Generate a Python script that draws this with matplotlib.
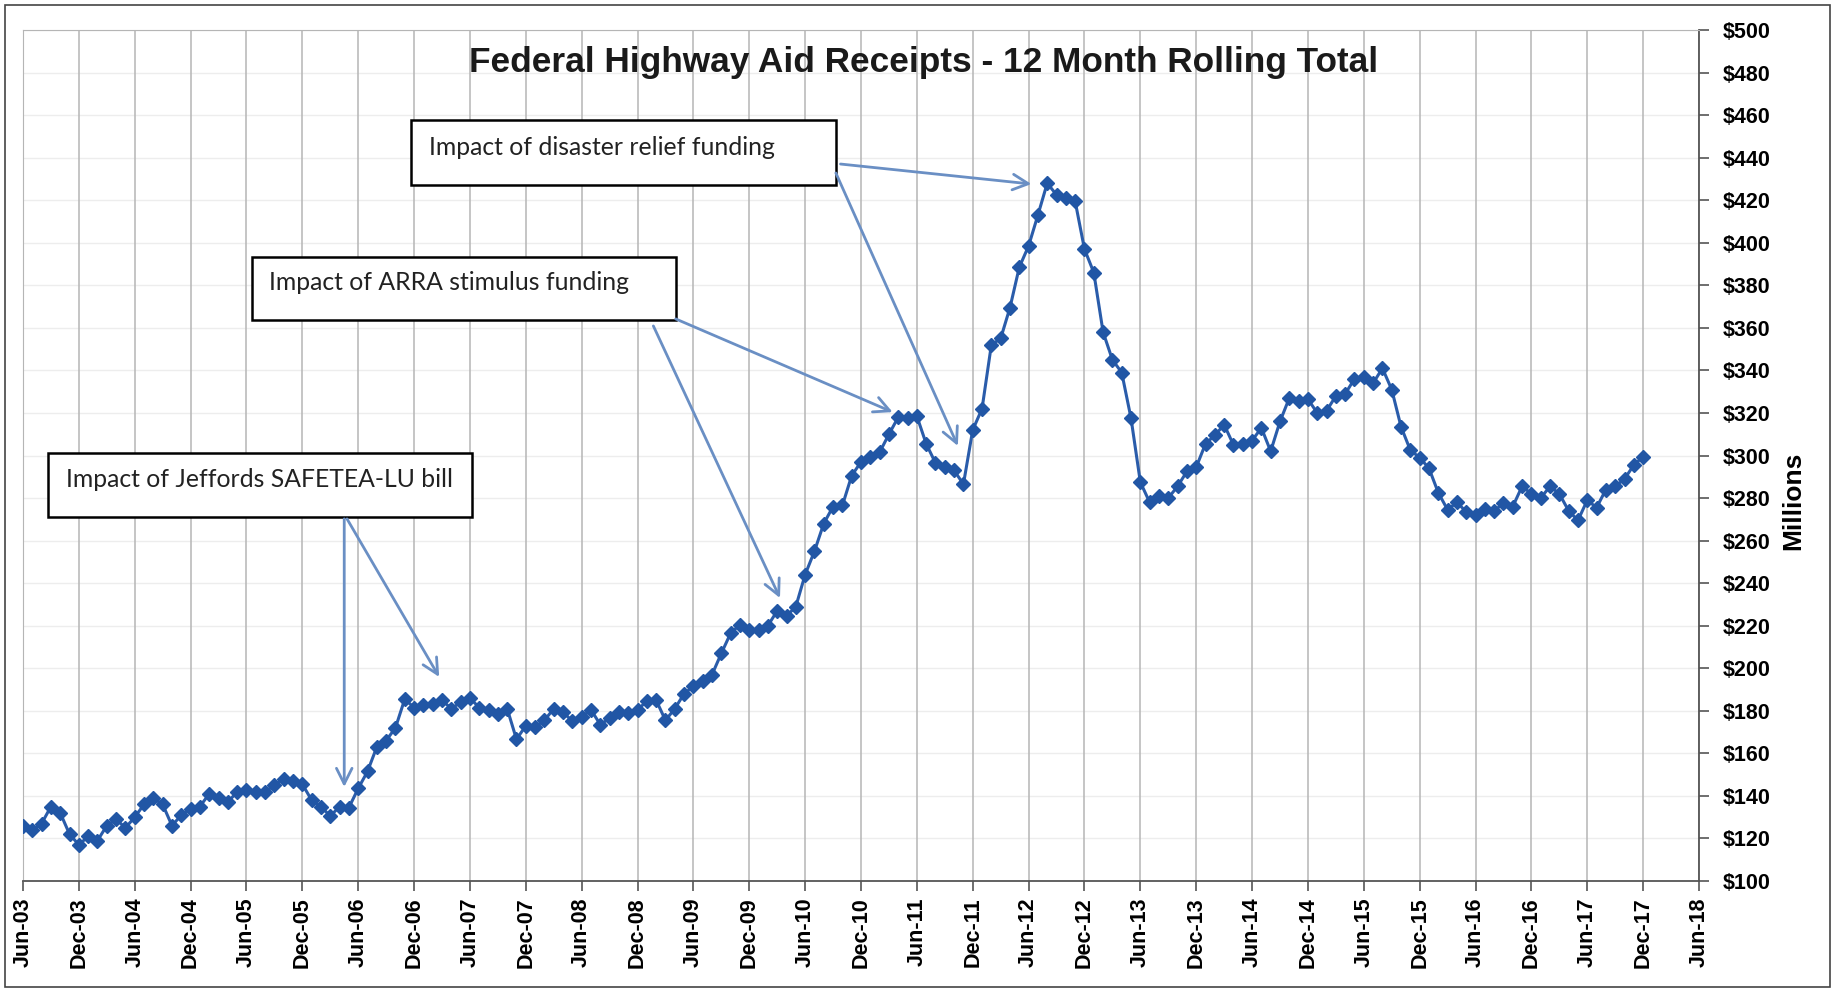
import numpy as np
import pandas as pd
import matplotlib
matplotlib.use("Agg")
import matplotlib.pyplot as plt
from matplotlib.patches import Rectangle

# 12 month rolling total of federal highway aid receipts ($ millions), monthly Jun-03 .. Dec-17
receipts = [
    126, 124, 127, 135, 132, 122, 117, 121, 119, 126, 129, 125,          # Jun-03 .. May-04
    130, 136, 139, 136, 126, 131, 134, 135, 141, 139, 137, 142,          # Jun-04 .. May-05
    143, 142, 142, 145, 148, 147, 145.5, 138, 135, 130.5, 135, 134.5,    # Jun-05 .. May-06
    143.5, 151.5, 163, 166, 172, 185.5, 181.5, 182.5, 183, 185, 181, 184,  # Jun-06 .. May-07
    186, 181.5, 180.5, 178.5, 181, 166.6, 173, 172.5, 175.5, 181, 179.5, 175,  # Jun-07 .. May-08
    177, 180.5, 173.5, 176.5, 179.5, 179, 180.5, 184.5, 185, 175.5, 181, 188,  # Jun-08 .. May-09
    191.5, 194, 197, 207, 216.5, 220.5, 218, 218, 220, 227, 224.5, 229,  # Jun-09 .. May-10
    244, 255, 268, 276, 276.5, 290.5, 297, 299.5, 301.5, 310, 318, 317.5,  # Jun-10 .. May-11
    318.5, 305.5, 296.5, 294.5, 293, 286.5, 312, 322, 352, 355, 369.5, 388.5,  # Jun-11 .. May-12
    398.5, 413, 428, 422.5, 421, 419.5, 397, 386, 358, 345, 339, 317.5,  # Jun-12 .. May-13
    287.5, 278, 281, 280, 285.5, 292.5, 294.5, 305.5, 309.5, 314.5, 305, 305.5,  # Jun-13 .. May-14
    307, 313, 302, 316, 327, 325.5, 326.5, 320, 321, 328, 329, 336,      # Jun-14 .. May-15
    337, 334, 341, 331, 313.5, 302.5, 299, 294, 282.5, 274.5, 278, 273.5,  # Jun-15 .. May-16
    272, 275, 274, 277.5, 276, 285.5, 282, 280, 285.5, 282, 274, 269.5,  # Jun-16 .. May-17
    279, 275.5, 284, 285.5, 289, 295.5, 299.5,                           # Jun-17 .. Dec-17
]
months = pd.date_range("2003-06-01", periods=len(receipts), freq="MS")
tick_dates = pd.date_range("2003-06-01", "2018-06-01", freq="6MS")
tick_labels = [d.strftime("%b-%y") for d in tick_dates]
y_ticks = list(range(100, 501, 20))

# annotation text, box (x0, y0, w, h) in months / $M, text anchor, arrows (start, tip)
notes = [
    ("Impact of disaster relief funding", (41.7, 427.1, 45.6, 30.8), (43.6, 444.7),
     [((87.8, 437.0), (108.3, 427.6)), ((87.3, 432.8), (100.4, 304.5))]),
    ("Impact of ARRA stimulus funding", (24.6, 363.7, 45.5, 29.6), (26.4, 381.5),
     [((70.1, 364.2), (93.4, 320.4)), ((67.7, 360.9), (81.3, 233.0))]),
    ("Impact of Jeffords SAFETEA-LU bill", (2.7, 271.0, 45.5, 30.2), (4.6, 288.5),
     [((34.5, 270.2), (34.5, 144.2)), ((34.8, 270.2), (44.7, 195.9))]),
]

x = np.array([(d.year - 2003) * 12 + d.month - 6 for d in months])
tick_pos = [(d.year - 2003) * 12 + d.month - 6 for d in tick_dates]

plt.rcParams["font.family"] = ["Liberation Sans", "DejaVu Sans"]

fig = plt.figure(figsize=(18.37, 9.9), dpi=100)
ax = fig.add_axes([23 / 1837, 1 - 881 / 990, 1676 / 1837, 851 / 990])

# grid
for yv in y_ticks:
    ax.axhline(yv, color="#ededed", lw=1.0, zorder=0)
for xv in tick_pos:
    ax.axvline(xv, color="#b5b5b5", lw=1.1, zorder=0)

ax.plot(x, receipts, color="#2a5caa", lw=2.2, marker="D", markersize=7.5,
        markerfacecolor="#2156a5", markeredgecolor="#2156a5", zorder=3)

ax.set_xlim(0, 180)
ax.set_ylim(100, 500)
ax.set_xticks(tick_pos)
ax.set_xticklabels(tick_labels, rotation=90, fontsize=15.5, fontweight="bold")
ax.yaxis.tick_right()
ax.set_yticks(y_ticks)
ax.set_yticklabels([f"${v}" for v in y_ticks], fontsize=15.5, fontweight="bold")
ax.tick_params(axis="x", direction="out", length=7, width=1.2, color="#555555", pad=5)
ax.tick_params(axis="y", direction="out", length=7, width=1.2, color="#555555", pad=10)
for side in ["top", "left"]:
    ax.spines[side].set_color("#b5b5b5")
for side in ["bottom", "right"]:
    ax.spines[side].set_color("#555555")
    ax.spines[side].set_linewidth(1.3)

# annotation boxes and arrows
for text, (bx, by, bw, bh), (tx, ty), arrows in notes:
    ax.add_patch(Rectangle((bx, by), bw, bh, facecolor="white", edgecolor="black",
                           lw=1.8, zorder=4))
    ax.text(tx, ty, text, fontsize=17.8, family=["Lato", "DejaVu Sans"], va="center",
            ha="left", color="#222222", zorder=5)
    for start, tip in arrows:
        ax.annotate("", xy=tip, xytext=start,
                    arrowprops=dict(arrowstyle="->", color="#6a8fc4", lw=2.0,
                                    mutation_scale=28, shrinkA=0, shrinkB=0),
                    zorder=4)

fig.text(0.503, 0.937, "Federal Highway Aid Receipts - 12 Month Rolling Total",
         ha="center", va="center", fontsize=25.4, fontweight="bold", color="#1a1a1a")
fig.text(0.976, 0.494, "Millions", rotation=90, ha="center", va="center",
         fontsize=19, fontweight="bold")

# outer frame of the chart
fig.patches.append(Rectangle((5 / 1837, 3 / 990), 1825 / 1837, 982 / 990,
                             transform=fig.transFigure, fill=False,
                             edgecolor="#444444", lw=1.2))

fig.savefig("out.png", dpi=100)
